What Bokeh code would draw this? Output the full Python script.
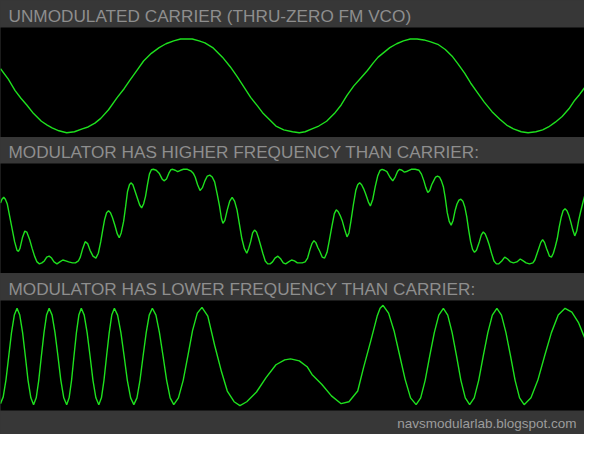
from bokeh.plotting import figure
from bokeh.layouts import column
from bokeh.models import Range1d, Title
from bokeh.embed import file_html
from bokeh.resources import INLINE

# ---------------- data ----------------
titles = [
    "UNMODULATED CARRIER (THRU-ZERO FM VCO)",
    "MODULATOR HAS HIGHER FREQUENCY THAN CARRIER:",
    "MODULATOR HAS LOWER FREQUENCY THAN CARRIER:",
]
footer_text = "navsmodularlab.blogspot.com"

# time axis (sample position) and amplitude (arbitrary units) for each trace
carrier_t = [0, 8, 15, 21, 27, 34, 42, 48, 53, 60, 68, 76, 84, 90, 97, 103, 111, 120, 127, 133,
             140, 147, 155, 163, 170, 178, 185, 190, 197, 204, 210, 218, 228, 236, 243, 250, 257,
             264, 270, 277, 283, 291, 300, 307, 313, 320, 327, 335, 343, 350, 356, 363, 370, 377,
             383, 388, 394, 400, 407, 414, 421, 428, 435, 442, 450, 457, 464, 470, 477, 483, 490,
             497, 505, 513, 520, 527, 535, 542, 550, 557, 563, 570, 577, 584, 590, 595, 600]
carrier_v = [18, 7, -5, -13, -20, -29, -37, -41, -44, -47, -49, -48, -45, -43, -39, -34, -25, -12, -3, 6,
             16, 26, 34, 40, 44, 47, 49, 49, 49, 47, 45, 40, 30, 20, 10, -1, -12,
             -21, -29, -36, -42, -46, -48, -49, -48, -45, -42, -37, -29, -20, -10, 0, 8, 16,
             24, 30, 35, 40, 44, 47, 49, 49, 48, 46, 43, 38, 31, 23, 13, 3, -7,
             -17, -27, -35, -41, -45, -48, -49, -48, -46, -43, -38, -32, -24, -15, -9, -2]

high_t = [0, 1.5, 3.3, 5, 7, 9.5, 12, 14.5, 17, 18.5, 20, 22.5, 25, 27, 30, 32.5, 35, 37.5, 40,
          42.5, 45, 47.5, 50, 52.5, 55, 58, 61, 64, 67, 70, 74, 77, 80, 82, 84.5, 87, 89.5, 92,
          95, 98, 100.5, 103, 105, 107, 109, 111, 113, 115, 117.5, 120, 122, 124, 126.5, 128.5,
          130.5, 132.5, 134, 136, 138, 141, 143, 145, 147, 149, 151, 153, 155, 157, 160, 163,
          166, 168, 170.5, 173, 175, 177, 179.5, 182, 185, 188, 192, 196, 198, 200, 202.5, 205,
          207.5, 210, 212.5, 215, 217.5, 220, 222.5, 225, 227, 228.5, 230.5, 233, 235.5, 238,
          240.5, 243, 245.5, 248, 250.5, 253, 255, 257, 259, 261, 263, 265, 267, 269.5, 272,
          274.5, 277, 279.5, 282, 285, 288, 290.5, 293, 296, 299, 302, 305, 307, 310, 313,
          315.5, 318, 320, 322, 324, 326, 328, 330.5, 333, 335.5, 338, 340.5, 343, 345, 347,
          349, 351, 353.5, 356, 358, 360, 362.5, 365, 367, 369, 371, 373, 375, 378, 380, 382.5,
          385, 387.5, 390, 392, 394.5, 397, 400, 403, 405.5, 408, 410, 412.5, 415, 418, 422,
          426, 430, 432.5, 435, 437, 439, 441, 443, 445, 447, 449, 451, 453, 455, 457, 459,
          461, 463, 465, 467, 469, 471, 473, 475, 477, 479, 481, 483, 485, 487, 489, 492, 494,
          496, 498, 500, 502, 504.5, 507, 509.5, 512, 515, 518, 521, 524, 527, 530.5, 534, 537,
          540, 543.5, 547, 549, 551, 553, 555, 557, 559, 561, 562.5, 564, 566, 568, 570, 572,
          574, 576, 578, 580, 582, 584, 586, 588, 590, 592, 594, 596, 598, 600]
high_v = [14, 18, 20, 18, 13, 0, -13, -26, -35, -36, -33, -22, -15, -16, -24, -33, -41, -47, -49,
          -48, -46, -42, -41, -43, -47, -49, -47, -45, -46, -47, -48, -48, -46, -42, -33, -26, -28, -35,
          -41, -43, -38, -26, -14, -3, 4, 6, 4, -1, -9, -18, -22, -17, -5, 10,
          26, 33, 35, 33, 27, 18, 12, 9, 13, 21, 33, 44, 48.5, 49, 48, 45,
          39, 37, 39, 45, 48.5, 49, 48, 46.5, 48, 49, 49, 47, 45, 41, 33, 27,
          30, 37, 42, 43, 41, 36, 24, 11, -2, -7, -4, 7, 16, 20,
          16, 7, -8, -23, -33, -38, -33, -26, -17, -14, -16, -22, -29, -38, -46,
          -49, -49, -47, -43, -41, -44, -48, -49, -47, -45, -46, -48, -48, -48, -47,
          -43, -34, -28, -25, -27, -32, -36, -42, -43, -37, -24, -10, 3, 7, 5,
          1, -4, -13, -21, -17, -5, 12, 27, 33, 35, 33, 29, 24, 15, 11, 18,
          31, 42, 48, 49, 48, 46.5, 41, 37, 41, 47, 49, 48, 46, 47, 49,
          49, 48, 44, 37, 30, 25, 27, 33, 37, 41, 42, 41, 37, 31, 19, 4,
          -5, -9, -4, 6, 13, 17, 18, 16, 10, 0, -14, -26, -34, -37, -35, -26, -19,
          -16, -18, -23, -29, -38, -46, -49, -49, -46, -42, -44, -47, -48, -47, -44, -46,
          -48, -49, -48, -45, -39, -33, -27, -24, -27, -33, -37, -41, -42, -38, -31, -23,
          -11, -1, 6, 8, 6, 1, -6, -14, -20, -15, -4, 5, 13, 21]

low_t = [0, 2.8, 5.7, 8.5, 11.3, 14.2, 17,
         19.8, 22.7, 25.5, 28.3, 31.2, 34,
         36.7, 39.3, 42, 44.7, 47.3, 50,
         53, 56, 59, 62, 65, 68,
         70.5, 73, 75.5, 78, 80.5, 83,
         86, 89, 92, 95, 98, 101,
         103.7, 106.3, 109, 111.7, 114.3, 117,
         120.3, 123.7, 127, 130.3, 133.7, 137,
         140.2, 143.3, 146.5, 149.7, 152.8, 156,
         159.7, 163.3, 167, 170.7, 174.3, 178,
         182.8, 187.7, 192.5, 197.3, 202.2, 207,
         213, 220, 227, 233, 240, 246,
         253, 263, 273, 283, 292, 298, 307, 315, 320, 330, 340, 350,
         358, 367, 373, 380, 387, 390, 393,
         398.7, 404.3, 410, 415.7, 421.3, 427,
         431.7, 436.3, 441, 445.7, 450.3, 455,
         459.5, 464, 468.5, 473, 477.5, 482,
         486.7, 491.3, 496, 500.7, 505.3, 510,
         514.7, 519.3, 524, 528.7, 533.3, 538,
         545, 552, 559, 566, 573, 580,
         587, 594, 600]
low_v = [-49, -42, -24, 0, 24, 42, 49,
         42, 24, 0, -25, -43, -50,
         -43, -25, 0, 24, 42, 49,
         42, 24, 0, -25, -43, -50,
         -43, -25, 0, 24, 42, 49,
         42, 24, 0, -25, -43, -50,
         -43, -25, 0, 24, 42, 49,
         42, 24, 0, -25, -43, -50,
         -43, -25, 0, 24, 42, 49,
         42, 24, 0, -25, -43, -50,
         -43, -25, 0, 26, 44, 50,
         41, 11, -16, -36, -47, -51,
         -47, -37, -22, -9, -4, -3, -5, -11, -19, -29, -41, -49,
         -47, -36, -12, 14, 41, 49, 52,
         44, 26, 1, -24, -43, -50,
         -43, -25, 0, 24, 42, 49,
         42, 24, 0, -25, -43, -50,
         -43, -25, 0, 24, 42, 49,
         42, 24, 0, -25, -43, -50,
         -43, -25, 0, 24, 42, 49,
         45, 34, 19]

# visible amplitude window of each scope screen (bottom, top)
y_windows = [(-54, 61), (-59, 55), (-56, 57)]

# ---------------- styling ----------------
BAR = "#373737"
TITLE_COL = "#8e8e8e"
TRACE = "#1ee01e"
FONT = "Liberation Sans"
W = 584


def scope(title, t, v, win, height, top, bottom=0):
    p = figure(width=W, height=height,
               x_range=Range1d(0, 600), y_range=Range1d(win[0], win[1]),
               output_backend="svg", toolbar_location=None,
               x_axis_location=None, y_axis_location=None,
               min_border_left=0, min_border_right=0,
               min_border_top=top, min_border_bottom=bottom,
               background_fill_color="black", border_fill_color=BAR,
               outline_line_color=None,
               styles={"background-color": BAR})
    p.grid.visible = False
    p.line(t, v, line_color=TRACE, line_width=1.4)
    p.title.text = title
    p.title.text_font = FONT
    p.title.text_font_size = "17.2px"
    p.title.text_font_style = "normal"
    p.title.text_color = TITLE_COL
    p.title.align = "left"
    p.title.offset = 8
    p.title.standoff = 3
    return p


p1 = scope(titles[0], carrier_t, carrier_v, y_windows[0], 137, 27)
p2 = scope(titles[1], high_t, high_v, y_windows[1], 136, 26)
p3 = scope(titles[2], low_t, low_v, y_windows[2], 161, 27, bottom=24)

foot = Title(text=footer_text, align="right", offset=8, standoff=6,
             text_font=FONT, text_font_size="13.5px", text_font_style="normal",
             text_color="#9c9c9c")
p3.add_layout(foot, "below")

page = column(p1, p2, p3, spacing=0, styles={"background-color": BAR})

open("out.html", "w").write(file_html(page, INLINE))
